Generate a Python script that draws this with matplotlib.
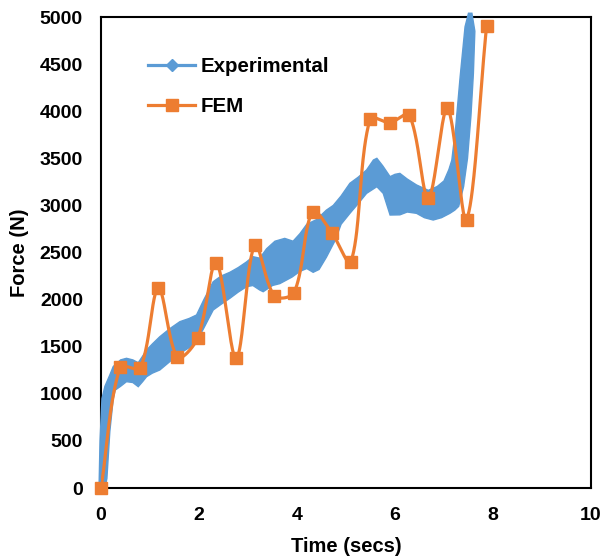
import numpy as np
import matplotlib
matplotlib.use("Agg")
import matplotlib.pyplot as plt
from matplotlib.lines import Line2D

plt.rcParams['font.family'] = ['Liberation Sans', 'DejaVu Sans']

BLUE = "#5B9BD5"
ORANGE = "#ED7D31"

# FEM results (time in s, force in N)
fem_time = [0.0, 0.39, 0.80, 1.17, 1.56, 1.97, 2.35, 2.76, 3.14, 3.54, 3.94,
            4.32, 4.71, 5.10, 5.49, 5.90, 6.29, 6.68, 7.07, 7.46, 7.87]
fem_force = [0, 1280, 1275, 2120, 1390, 1590, 2392, 1377, 2580, 2040, 2075,
             2935, 2710, 2400, 3915, 3880, 3960, 3080, 4030, 2850, 4905]

# Experimental record: upper and lower envelope of the oscillating signal
exp_upper_time = [-0.04, -0.02, 0.02, 0.08, 0.18, 0.25, 0.40, 0.52, 0.65, 0.76,
                  0.85, 0.93, 1.05, 1.20, 1.40, 1.61, 1.80, 1.95, 2.10, 2.29,
                  2.45, 2.63, 2.80, 2.97, 3.10, 3.24, 3.38, 3.55, 3.75, 3.92,
                  4.06, 4.20, 4.40, 4.60, 4.74, 4.90, 5.08, 5.25, 5.42, 5.56,
                  5.63, 5.75, 5.90, 6.00, 6.10, 6.25, 6.44, 6.68, 6.86, 7.00,
                  7.10, 7.16, 7.24, 7.33, 7.43, 7.50]
exp_upper_force = [0, 500, 950, 1080, 1200, 1290, 1360, 1377, 1360, 1330,
                   1400, 1465, 1530, 1606, 1690, 1766, 1800, 1837, 2000, 2190,
                   2250, 2290, 2340, 2400, 2456, 2440, 2540, 2620, 2650, 2620,
                   2700, 2800, 2850, 2950, 3000, 3100, 3235, 3300, 3376, 3482,
                   3500, 3420, 3305, 3330, 3340, 3280, 3217, 3160, 3200, 3260,
                   3380, 3480, 3835, 4366, 4897, 5040]
exp_lower_time = [0.08, 0.12, 0.18, 0.25, 0.29, 0.40, 0.52, 0.65, 0.76, 0.85,
                  0.93, 1.05, 1.20, 1.40, 1.61, 1.80, 1.95, 2.10, 2.29, 2.45,
                  2.63, 2.80, 2.97, 3.10, 3.24, 3.31, 3.50, 3.65, 3.90, 4.06,
                  4.20, 4.33, 4.45, 4.60, 4.78, 4.90, 5.08, 5.25, 5.42, 5.63,
                  5.76, 5.90, 6.10, 6.25, 6.44, 6.60, 6.78, 6.95, 7.12, 7.22,
                  7.30, 7.40, 7.48, 7.55, 7.60, 7.63, 7.57]
exp_lower_force = [0, 100, 600, 950, 1040, 1080, 1129, 1120, 1076, 1130,
                   1182, 1220, 1253, 1340, 1430, 1490, 1553, 1700, 1890, 1950,
                   2014, 2080, 2137, 2150, 2102, 2084, 2150, 2170, 2240, 2300,
                   2330, 2290, 2320, 2450, 2630, 2800, 2916, 3020, 3128, 3199,
                   3128, 2898, 2900, 2930, 2916, 2870, 2845, 2870, 2916, 2950,
                   2990, 3200, 3500, 3950, 4400, 4850, 5040]

x_ticks = [0, 2, 4, 6, 8, 10]
y_ticks = [0, 500, 1000, 1500, 2000, 2500, 3000, 3500, 4000, 4500, 5000]

fig = plt.figure(figsize=(6.07, 5.58), dpi=100)
ax = fig.add_axes([0.1664, 0.1254, 0.8072, 0.8441])
ax.set_xlim(0, 10)
ax.set_ylim(0, 5000)


def smooth_curve(x, y, n=40):
    """Smoothed polyline through the points: cubic Bezier segments whose
    tangents are weighted by the on-screen lengths of the adjacent segments."""
    pts = ax.transData.transform(np.column_stack([x, y]))
    out = [pts[0]]
    s = np.linspace(0, 1, n)[1:]
    m = len(pts)

    def tangent(i):
        pm = pts[i - 1] if i > 0 else pts[i]
        pp = pts[i + 1] if i + 1 < m else pts[i]
        lp = np.hypot(*(pts[i] - pm))
        ln = np.hypot(*(pp - pts[i]))
        return pp - pm, lp, ln

    for i in range(m - 1):
        p0, p3 = pts[i], pts[i + 1]
        d0, lp0, ln0 = tangent(i)
        d1, lp1, ln1 = tangent(i + 1)
        w0 = ln0 / (lp0 + ln0) if (lp0 + ln0) > 0 else 0
        w1 = lp1 / (lp1 + ln1) if (lp1 + ln1) > 0 else 0
        c1 = p0 + d0 * w0 / 3.0
        c2 = p3 - d1 * w1 / 3.0
        for u in s:
            b = ((1 - u) ** 3) * p0 + 3 * ((1 - u) ** 2) * u * c1 \
                + 3 * (1 - u) * u ** 2 * c2 + u ** 3 * p3
            out.append(b)
    out = ax.transData.inverted().transform(np.array(out))
    return out[:, 0], out[:, 1]


# experimental band
band_t = list(exp_upper_time) + list(exp_lower_time[::-1])
band_f = list(exp_upper_force) + list(exp_lower_force[::-1])
ax.fill(band_t, band_f, color=BLUE, lw=1.0, ec=BLUE, zorder=3, clip_on=False)

# FEM smoothed line with square markers
sx, sy = smooth_curve(fem_time, fem_force)
ax.plot(sx, sy, color=ORANGE, lw=2.3, zorder=4, solid_capstyle='round')
ax.plot(fem_time, fem_force, ls='none', marker='s', ms=8.5, color=ORANGE,
        zorder=5, clip_on=False)

ax.set_xticks(x_ticks)
ax.set_yticks(y_ticks)
ax.set_xticklabels([str(v) for v in x_ticks])
ax.set_yticklabels([str(v) for v in y_ticks])
ax.tick_params(axis='both', length=0, labelsize=14)
ax.tick_params(axis='y', pad=13)
ax.tick_params(axis='x', pad=14)
for lab in ax.get_xticklabels() + ax.get_yticklabels():
    lab.set_fontweight('bold')

for sp in ax.spines.values():
    sp.set_linewidth(1.5)
    sp.set_color('black')
    sp.set_zorder(2)

ax.set_xlabel("Time (secs)", fontsize=14.5, fontweight='bold', labelpad=9)
ax.set_ylabel("Force (N)", fontsize=14.5, fontweight='bold', labelpad=8)

handles = [
    Line2D([], [], color=BLUE, lw=2.3, marker='D', ms=6, label='Experimental'),
    Line2D([], [], color=ORANGE, lw=2.3, marker='s', ms=8, label='FEM'),
]
leg = ax.legend(handles=handles, loc='upper left', bbox_to_anchor=(0.058, 0.955),
                frameon=False, handlelength=2.3, handletextpad=0.25,
                labelspacing=1.05, prop={'size': 14.8, 'weight': 'bold'})

fig.savefig("out.png", dpi=100)
